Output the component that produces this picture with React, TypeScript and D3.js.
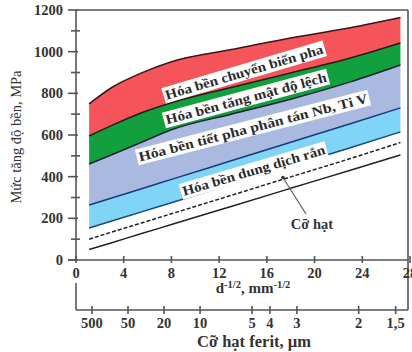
import React, { useEffect, useRef } from "react";
import * as d3 from "d3";

const W = 412;
const H = 352;

// Abscissa d^-1/2 (mm^-1/2) at which the strengthening curves are sampled
const gridX = [1.1, 3, 5.5, 8, 13, 18, 23, 27.2];
// Upper edge of the phase-transformation band (MPa)
const phaseTop = [749, 828, 898, 952, 1010, 1066, 1115, 1164];
// Boundary between phase-transformation and dislocation bands
const dislocTop = [595, 646, 707, 755, 828, 898, 970, 1042];
// Boundary between dislocation and precipitation bands
const precipTop = [461, 505, 565, 625, 700, 772, 855, 936];
// Boundary between precipitation and solid-solution bands
const solidTop = [264, 298, 342, 387, 476, 565, 654, 730];
// Lower edge of the solid-solution band
const solidBottom = [154, 187, 231, 275, 363, 451, 539, 615];
// Dashed reference line
const dashedLine = [100, 134, 178, 222, 310, 399, 487, 564];
// Grain-size (Hall–Petch) contribution
const grainLine = [50, 83, 127, 170, 257, 344, 431, 504];

const xTicks = [0, 4, 8, 12, 16, 20, 24, 28];
const yTicks = [0, 200, 400, 600, 800, 1000, 1200];
const yMinorTicks = [100, 300, 500, 700, 900, 1100];

// Ferrite grain size scale (µm) and where each mark sits on the d^-1/2 axis
const ferriteLabels = ["500", "50", "20", "10", "5", "4", "3", "2", "1,5"];
const ferritePos = [1.34, 4.36, 7.38, 10.4, 14.76, 16.26, 18.52, 23.7, 26.8];

const bandLabels = [
  { text: "Hóa bền chuyển biến pha", x: 14.1, y: 902, angle: -16.5, len: 164 },
  { text: "Hóa bền tăng mật độ lệch", x: 14.25, y: 775, angle: -15, len: 166 },
  { text: "Hóa bền tiết pha phân tán Nb, Ti V", x: 14.84, y: 636, angle: -14.5, len: 236 },
  { text: "Hóa bền dung dịch rắn", x: 14.9, y: 430, angle: -16.5, len: 148 },
];

const FONT = "'Liberation Serif', 'DejaVu Serif', serif";

export default function App() {
  const ref = useRef<SVGSVGElement>(null);

  useEffect(() => {
    const svg = d3.select(ref.current);
    svg.selectAll("*").remove();

    const x = d3.scaleLinear().domain([0, 28]).range([76, 410]);
    const y = d3.scaleLinear().domain([0, 1200]).range([260, 10]);

    const rows = gridX.map((gx, i) => ({
      x: gx,
      phaseTop: phaseTop[i],
      dislocTop: dislocTop[i],
      precipTop: precipTop[i],
      solidTop: solidTop[i],
      solidBottom: solidBottom[i],
      dashed: dashedLine[i],
      grain: grainLine[i],
    }));
    type Row = (typeof rows)[number];
    type Key = Exclude<keyof Row, "x">;

    const band = (lo: Key, hi: Key) =>
      d3
        .area<Row>()
        .x((d) => x(d.x))
        .y0((d) => y(d[lo]))
        .y1((d) => y(d[hi]))
        .curve(d3.curveMonotoneX)(rows);
    const line = (k: Key) =>
      d3
        .line<Row>()
        .x((d) => x(d.x))
        .y((d) => y(d[k]))
        .curve(d3.curveMonotoneX)(rows);

    const plot = svg.append("g");
    plot.append("path").attr("d", band("dislocTop", "phaseTop")).attr("fill", "#f4545a");
    plot.append("path").attr("d", band("precipTop", "dislocTop")).attr("fill", "#12a03e");
    plot.append("path").attr("d", band("solidTop", "precipTop")).attr("fill", "#a9b9e0");
    plot.append("path").attr("d", band("solidBottom", "solidTop")).attr("fill", "#80d4f6");

    const lines: [Key, string, string | null][] = [
      ["phaseTop", "#3a1616", null],
      ["dislocTop", "#1e1e1e", null],
      ["precipTop", "#1b2230", null],
      ["solidTop", "#173b78", null],
      ["solidBottom", "#1a4a78", null],
      ["dashed", "#222", "4 2"],
      ["grain", "#222", null],
    ];
    lines.forEach(([k, c, dash]) => {
      plot
        .append("path")
        .attr("d", line(k))
        .attr("fill", "none")
        .attr("stroke", c)
        .attr("stroke-width", 1.5)
        .attr("stroke-dasharray", dash);
    });

    // Labels on white boxes along the bands
    bandLabels.forEach((lb) => {
      const g = plot
        .append("g")
        .attr("transform", `translate(${x(lb.x)},${y(lb.y)}) rotate(${lb.angle})`);
      const rect = g.append("rect").attr("fill", "#fff");
      const t = g
        .append("text")
        .attr("text-anchor", "middle")
        .attr("dominant-baseline", "central")
        .attr("font-family", FONT)
        .attr("font-size", 13.5)
        .attr("font-weight", "bold")
        .attr("fill", "#2a2a2a")
        .attr("textLength", lb.len)
        .attr("lengthAdjust", "spacingAndGlyphs")
        .text(lb.text);
      const bb = (t.node() as SVGTextElement).getBBox();
      rect
        .attr("x", -lb.len / 2 - 2)
        .attr("y", bb.y - 0.5)
        .attr("width", lb.len + 4)
        .attr("height", bb.height + 1);
    });

    // "Cỡ hạt" callout
    const calloutX = 17.35;
    const calloutTarget = dashedLine[5] - 3;
    plot
      .append("line")
      .attr("x1", 306)
      .attr("y1", 214)
      .attr("x2", x(calloutX))
      .attr("y2", y(calloutTarget))
      .attr("stroke", "#666")
      .attr("stroke-width", 1.3);
    plot
      .append("circle")
      .attr("cx", x(calloutX))
      .attr("cy", y(calloutTarget))
      .attr("r", 1.8)
      .attr("fill", "#333");
    plot
      .append("text")
      .attr("x", 312)
      .attr("y", 229)
      .attr("text-anchor", "middle")
      .attr("font-family", FONT)
      .attr("font-size", 14.5)
      .attr("font-weight", "bold")
      .attr("fill", "#333")
      .text("Cỡ hạt");

    // Frame and axes
    const axisColor = "#555";
    const frame = svg.append("g").attr("stroke", axisColor).attr("stroke-width", 1.6).attr("fill", "none");
    frame.append("line").attr("x1", 76).attr("x2", 408).attr("y1", 10).attr("y2", 10);
    frame.append("line").attr("x1", 408).attr("x2", 408).attr("y1", 10).attr("y2", 310);
    frame.append("line").attr("x1", 76).attr("x2", 76).attr("y1", 10).attr("y2", 260);
    frame.append("line").attr("x1", 68).attr("x2", 408).attr("y1", 260).attr("y2", 260);
    frame.append("line").attr("x1", 76).attr("x2", 76).attr("y1", 283).attr("y2", 310);
    frame.append("line").attr("x1", 76).attr("x2", 408).attr("y1", 310).attr("y2", 310);

    const txt = svg.append("g").attr("font-family", FONT).attr("fill", "#333");

    yTicks.forEach((v) => {
      frame.append("line").attr("x1", 68).attr("x2", 78).attr("y1", y(v)).attr("y2", y(v));
      txt
        .append("text")
        .attr("x", 63)
        .attr("y", y(v))
        .attr("text-anchor", "end")
        .attr("dominant-baseline", "central")
        .attr("font-size", 14.5)
        .attr("font-weight", "bold")
        .text(String(v));
    });
    yMinorTicks.forEach((v) => {
      frame.append("line").attr("x1", 71).attr("x2", 80).attr("y1", y(v)).attr("y2", y(v));
    });

    xTicks.forEach((v) => {
      frame.append("line").attr("x1", x(v)).attr("x2", x(v)).attr("y1", 256).attr("y2", 263);
      txt
        .append("text")
        .attr("x", x(v))
        .attr("y", 273)
        .attr("text-anchor", "middle")
        .attr("dominant-baseline", "central")
        .attr("font-size", 14.5)
        .attr("font-weight", "bold")
        .text(String(v));
    });

    ferritePos.forEach((p, i) => {
      frame.append("line").attr("x1", x(p)).attr("x2", x(p)).attr("y1", 306).attr("y2", 314);
      txt
        .append("text")
        .attr("x", x(p))
        .attr("y", 323)
        .attr("text-anchor", "middle")
        .attr("dominant-baseline", "central")
        .attr("font-size", 14.5)
        .attr("font-weight", "bold")
        .text(ferriteLabels[i]);
    });

    // d^-1/2, mm^-1/2
    const xl = txt
      .append("text")
      .attr("x", 253)
      .attr("y", 293)
      .attr("text-anchor", "middle")
      .attr("font-size", 15)
      .attr("font-weight", "bold");
    xl.append("tspan").text("d");
    xl.append("tspan").attr("dy", -5).attr("font-size", 10.5).text("-1/2");
    xl.append("tspan").attr("dy", 5).text(", mm");
    xl.append("tspan").attr("dy", -5).attr("font-size", 10.5).text("-1/2");

    txt
      .append("text")
      .attr("x", 254)
      .attr("y", 347)
      .attr("text-anchor", "middle")
      .attr("font-size", 16.5)
      .attr("font-weight", "bold")
      .text("Cỡ hạt ferit, µm");

    txt
      .append("text")
      .attr("transform", "translate(16,137) rotate(-90)")
      .attr("text-anchor", "middle")
      .attr("dominant-baseline", "central")
      .attr("font-size", 14.5)
      .text("Mức tăng độ bền, MPa");
  }, []);

  return (
    <svg
      ref={ref}
      width={W}
      height={H}
      style={{ position: "fixed", left: 0, top: 0, background: "#fff", display: "block" }}
    />
  );
}
